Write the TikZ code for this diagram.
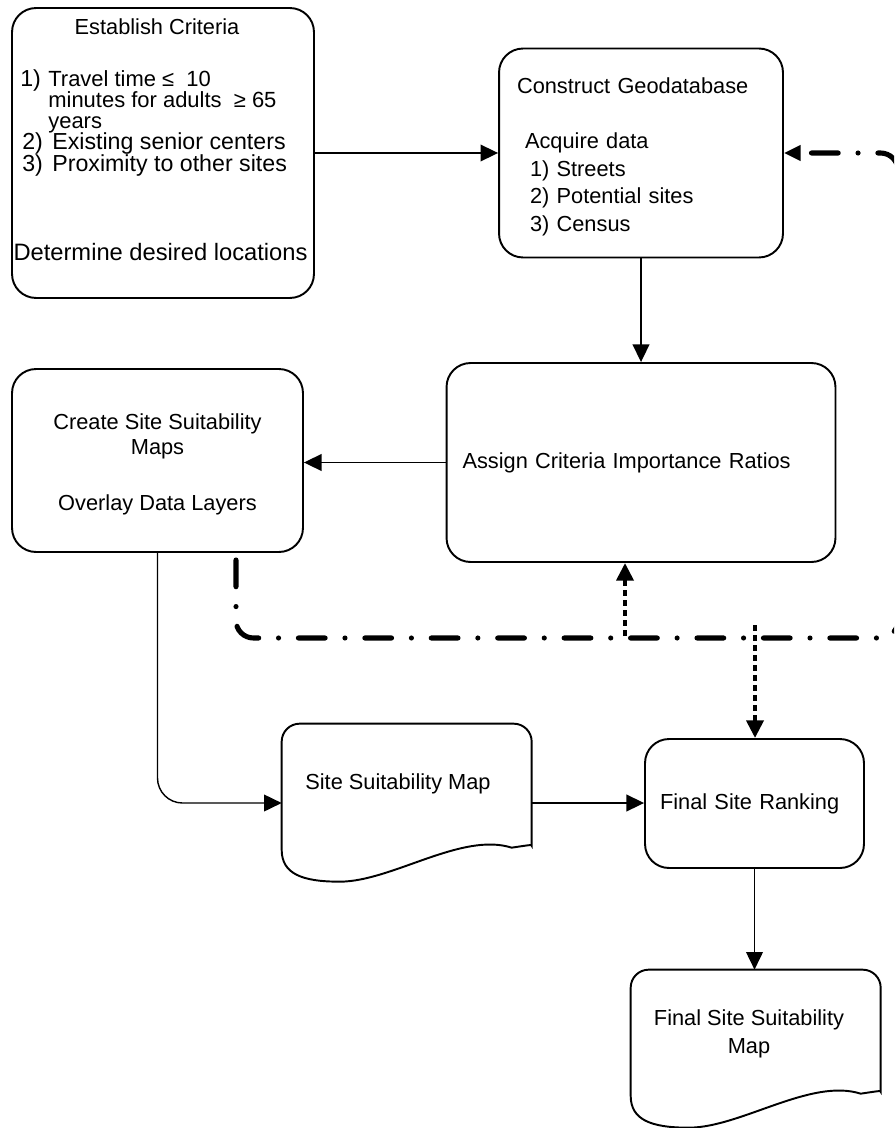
\documentclass[tikz,border=0pt]{standalone}
\usepackage{fontspec}
\setmainfont{Liberation Sans}
\usetikzlibrary{arrows.meta}
\usetikzlibrary{calc}

\begin{document}
\begin{tikzpicture}[
		x=0.02cm,
		y=-0.02cm,
		font=\fontsize{12.4}{15.9}\selectfont,
		box/.style={draw, rounded corners=0.48cm, line width=1.1pt, inner sep=0pt},
		doc/.style={inner sep=0pt, minimum width=5cm, minimum height=3.16cm},
		docline/.style={line width=1.1pt},
		txt/.style={inner sep=0pt},
		tight/.style={font={\fontsize{13.2}{12.1}\selectfont\lineskiplimit=-100pt\relax}},
		flow/.style={-{Triangle[length=10pt,width=9.5pt]}, line width=0.8pt},
		loopline/.style={-{Triangle[length=9.5pt,width=8.5pt]}, line width=2.9pt, line cap=round, dash pattern=on 15.2pt off 11.3pt on 0.01pt off 11.3pt, rounded corners=0.35cm},
		tapline/.style={-{Triangle[length=10pt,width=9.5pt]}, line width=2.4pt, dash pattern=on 3.4pt off 2.3pt}
	]
		\useasboundingbox (0,0) rectangle (894,1128);
		\clip (0,0) rectangle (894,1128);

		\node[box, minimum width=6.04cm, minimum height=5.8cm] (crit) at (163,153) {};
		\node[txt] (critTitle) at (157,27) {Establish Criteria};
		\node[txt, anchor=north west, align=left, tight] (critList) at (20,69) {\makebox[0.56cm][l]{1)}{\fontsize{12.5}{12.1}\selectfont Travel time ≤\ \ 10}\\
			\hspace*{0.56cm}{\fontsize{12.5}{12.1}\selectfont minutes for adults\ \ ≥ 65}\\
			\hspace*{0.56cm}{\fontsize{12.5}{12.1}\selectfont years}\\
			\hspace*{0.04cm}\makebox[0.6cm][l]{2)}Existing senior centers\\
			\hspace*{0.04cm}\makebox[0.6cm][l]{3)}Proximity to other sites};
		\node[txt, font=\fontsize{13.5}{15}\selectfont] (critFoot) at (160.5,252) {Determine desired locations};

		\node[box, minimum width=5.68cm, minimum height=4.18cm, text width=4.96cm, inner xsep=0.36cm, align=left] (geo) at (641,153) {\rule{0pt}{13.5pt}Construct Geodatabase\\[15.3pt]
			\hspace*{0.16cm}Acquire data\\
			\hspace*{0.26cm}1) Streets\\
			\hspace*{0.26cm}2) Potential sites\\
			\hspace*{0.26cm}3) Census};

		\node[box, minimum width=7.78cm, minimum height=3.98cm, text width=7.14cm, inner xsep=0.32cm, align=left] (ratio) at (641,462.5) {Assign Criteria Importance Ratios};

		\node[box, minimum width=5.82cm, minimum height=3.66cm, align=center, font=\fontsize{12.4}{14.2}\selectfont] (maps) at (157.5,460.5) {\rule{0pt}{13.5pt}Create Site Suitability\\Maps\\[17.6pt]Overlay Data Layers};

		\node[doc] (ssm) at (407,803) {};
		\draw[docline, shift={(ssm.north west)}] (0,126) [rounded corners=0.36cm] -- (0,0) -- (250,0) -- (250,104) [sharp corners] .. controls (250,121) .. (230,124) .. controls (180,108) and (110,158) .. (58,158) .. controls (20,158) and (0,150) .. (0,126) -- cycle;
		\node[txt] (ssmText) at (398,784) {Site Suitability Map};

		\node[box, minimum width=4.38cm, minimum height=2.58cm, text width=3.78cm, inner xsep=0.3cm, align=left] (fin) at (754.5,803.5) {Final Site Ranking};

		\node[doc] (fmap) at (756,1049) {};
		\draw[docline, shift={(fmap.north west)}] (0,126) [rounded corners=0.36cm] -- (0,0) -- (250,0) -- (250,104) [sharp corners] .. controls (250,121) .. (230,124) .. controls (180,108) and (110,158) .. (58,158) .. controls (20,158) and (0,150) .. (0,126) -- cycle;
		\node[txt, align=center] (fmapText) at (749,1033.5) {Final Site Suitability\\Map};

		\draw[flow] (crit.east) -- (geo.west);
		\draw[flow] (geo.south) -- (ratio.north);
		\draw[flow] (ratio.west) -- (ratio.west -| maps.east);
		\draw[flow, rounded corners=0.5cm] (maps.south) |- (ssm.west);
		\draw[flow] (ssm.east) -- (ssm.east -| fin.west);
		\draw[flow] (fin.south) -- (fin.south |- fmap.north);

		\coordinate (loopStart) at (236,560);
		\coordinate (loopCorner) at (898,638);
		\draw[loopline] (loopStart) |- (loopCorner) |- (geo.east);

		\coordinate (tapA) at (625,636);
		\draw[tapline] (tapA) -- (tapA |- ratio.south);
		\coordinate (tapB) at (755,625);
		\draw[tapline] (tapB) -- (tapB |- fin.north);
\end{tikzpicture}
\end{document}
